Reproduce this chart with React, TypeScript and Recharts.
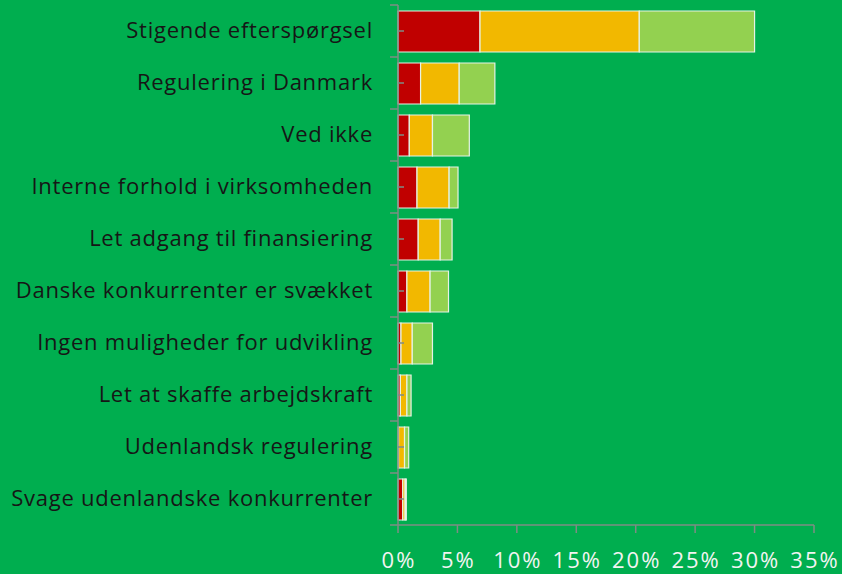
import { BarChart, Bar, XAxis, YAxis } from 'recharts';

const categories = [
  'Stigende efterspørgsel',
  'Regulering i Danmark',
  'Ved ikke',
  'Interne forhold i virksomheden',
  'Let adgang til finansiering',
  'Danske konkurrenter er svækket',
  'Ingen muligheder for udvikling',
  'Let at skaffe arbejdskraft',
  'Udenlandsk regulering',
  'Svage udenlandske konkurrenter',
];

const stor = [6.9, 1.9, 0.95, 1.6, 1.7, 0.75, 0.25, 0.2, 0.05, 0.4];
const nogen = [13.4, 3.25, 1.95, 2.7, 1.85, 1.95, 0.95, 0.55, 0.5, 0.2];
const lille = [9.7, 3.0, 3.1, 0.75, 1.0, 1.55, 1.7, 0.35, 0.35, 0.1];

const xTicks = [0, 5, 10, 15, 20, 25, 30, 35];

const data = categories.map((name, i) => ({
  name,
  stor: stor[i],
  nogen: nogen[i],
  lille: lille[i],
}));

const BG = '#00ae4f';
const AXIS = '#7f8c84';
const FONT = '"Open Sans", sans-serif';
const BAND = 52;

const CategoryTick = (props: any) => {
  const { x, y, payload, index } = props;
  const ax = x + 8; // axis line position
  return (
    <g>
      <line x1={ax - 8} x2={ax} y1={y - BAND / 2} y2={y - BAND / 2} stroke={AXIS} strokeWidth={1.5} />
      {index === categories.length - 1 && (
        <line x1={ax - 8} x2={ax} y1={y + BAND / 2} y2={y + BAND / 2} stroke={AXIS} strokeWidth={1.5} />
      )}
      <line x1={ax} x2={ax + 6} y1={y} y2={y} stroke={AXIS} strokeWidth={1.5} />
      <text
        x={ax - 25}
        y={y}
        dy={7}
        textAnchor="end"
        fill="#161616"
        fontSize={22}
        letterSpacing={0.75}
        fontFamily={FONT}
      >
        {payload.value}
      </text>
    </g>
  );
};

const PercentTick = (props: any) => {
  const { x, y, payload } = props;
  return (
    <text x={x + 1} y={y} dy={14} textAnchor="middle" fill="#f2f4f2" fontSize={22} letterSpacing={2} fontFamily={FONT}>
      {`${payload.value}%`}
    </text>
  );
};

export default function App() {
  return (
    <div style={{ position: 'absolute', left: 0, top: 0, width: 842, height: 574, background: BG }}>
      <BarChart
        width={842}
        height={574}
        data={data}
        layout="vertical"
        margin={{ top: 5, right: 28, left: 0, bottom: 0 }}
        barSize={41}
      >
        <XAxis
          type="number"
          domain={[0, 35]}
          ticks={xTicks}
          interval={0}
          height={49}
          stroke={AXIS}
          strokeWidth={1.5}
          tickSize={8}
          tickMargin={21}
          tick={<PercentTick />}
        />
        <YAxis
          type="category"
          dataKey="name"
          width={398}
          stroke={AXIS}
          strokeWidth={1.5}
          tickLine={false}
          tick={<CategoryTick />}
          interval={0}
        />
        <Bar dataKey="stor" stackId="a" fill="#c00000" stroke="#e6f2e6" strokeWidth={1.2} isAnimationActive={false} />
        <Bar dataKey="nogen" stackId="a" fill="#f2b800" stroke="#e6f2e6" strokeWidth={1.2} isAnimationActive={false} />
        <Bar dataKey="lille" stackId="a" fill="#93d150" stroke="#e6f2e6" strokeWidth={1.2} isAnimationActive={false} />
      </BarChart>
    </div>
  );
}
